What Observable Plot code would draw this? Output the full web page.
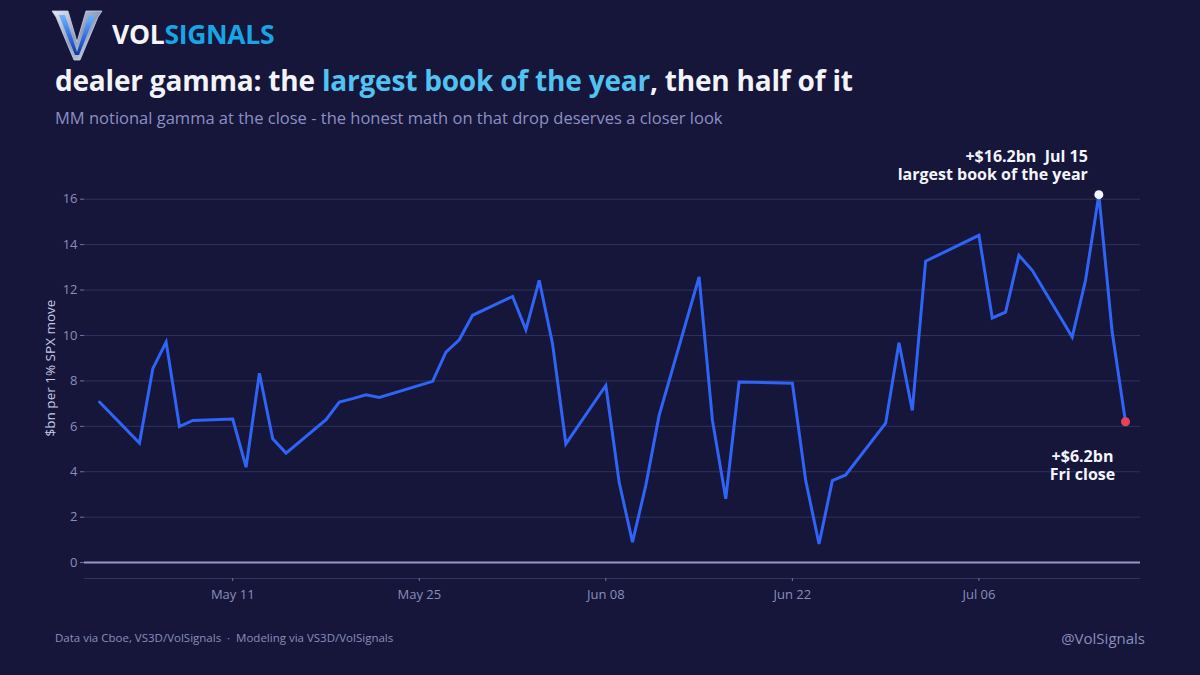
<!DOCTYPE html>
<html>
<head>
<meta charset="utf-8">
<script src="https://cdn.jsdelivr.net/npm/d3@7"></script>
<script src="https://cdn.jsdelivr.net/npm/@observablehq/plot@0.6"></script>
<style>
  html, body { margin: 0; padding: 0; background: #15163a; }
  #page { position: relative; width: 1200px; height: 675px; background: #15163a; overflow: hidden;
          font-family: "Open Sans", "Noto Sans", sans-serif; }
  .abs { position: absolute; white-space: nowrap; }
  #brand { left: 112px; top: 16px; font-size: 26.5px; line-height: 36px; font-weight: 700; letter-spacing: -0.3px; }
  #brand .vol { color: #f4f4fb; }
  #brand .sig { color: #19a4e4; }
  #title { left: 55px; top: 62px; font-size: 28px; line-height: 36px; font-weight: 700; color: #f3f3fa; letter-spacing: -0.2px; }
  #title .hl { color: #52c3f1; }
  #subtitle { left: 55px; top: 107px; font-size: 16.5px; line-height: 22px; color: #8c90c2; }
  #chart { left: 0; top: 140px; }
  #ylabel { left: 50px; top: 368px; font-size: 13.5px; line-height: 18px; color: #c6c9e6;
            transform: translate(-50%, -50%) rotate(-90deg); }
  #source { left: 55px; top: 630px; font-size: 11.5px; line-height: 16px; color: #8a8eba; }
  #handle { right: 55px; top: 628px; font-size: 15px; line-height: 20px; color: #8a8eba; }
</style>
</head>
<body>
<div id="page">
  <svg class="abs" style="left:51px;top:8px" width="52" height="54" viewBox="0 0 52 54">
    <defs>
      <linearGradient id="vSilver" x1="0" y1="0" x2="1" y2="1">
        <stop offset="0" stop-color="#e6ebf5"/>
        <stop offset="0.5" stop-color="#8f9bb8"/>
        <stop offset="1" stop-color="#d9e1f0"/>
      </linearGradient>
      <linearGradient id="vBlue" x1="0" y1="0" x2="0" y2="1">
        <stop offset="0" stop-color="#6fb4ff"/>
        <stop offset="0.6" stop-color="#2a66e0"/>
        <stop offset="1" stop-color="#123a9e"/>
      </linearGradient>
    </defs>
    <path d="M1 3 L17 3 L26 34 L35 3 L51 3 L47 9 L29 52 L23 52 L5 9 Z" fill="url(#vSilver)" stroke="#c8d2e6" stroke-width="0.8"/>
    <path d="M8 7 L14 7 L26 44 L38 7 L44 7 L28 47 L24 47 Z" fill="url(#vBlue)"/>
  </svg>
  <div id="brand" class="abs"><span class="vol">VOL</span><span class="sig">SIGNALS</span></div>
  <div id="title" class="abs">dealer gamma: the <span class="hl">largest book of the year</span>, then half of it</div>
  <div id="subtitle" class="abs">MM notional gamma at the close - the honest math on that drop deserves a closer look</div>
  <div id="chart" class="abs"></div>
  <div id="ylabel" class="abs">$bn per 1% SPX move</div>
  <div id="source" class="abs">Data via Cboe, VS3D/VolSignals &nbsp;·&nbsp; Modeling via VS3D/VolSignals</div>
  <div id="handle" class="abs">@VolSignals</div>
</div>
<script>
// Trading-day closes, dealer (market-maker) notional gamma, $bn per 1% SPX move
const dates = [
  "2026-05-01", "2026-05-04", "2026-05-05", "2026-05-06", "2026-05-07", "2026-05-08",
  "2026-05-11", "2026-05-12", "2026-05-13", "2026-05-14", "2026-05-15",
  "2026-05-18", "2026-05-19", "2026-05-20", "2026-05-21", "2026-05-22",
  "2026-05-26", "2026-05-27", "2026-05-28", "2026-05-29",
  "2026-06-01", "2026-06-02", "2026-06-03", "2026-06-04", "2026-06-05",
  "2026-06-08", "2026-06-09", "2026-06-10", "2026-06-11", "2026-06-12",
  "2026-06-15", "2026-06-16", "2026-06-17", "2026-06-18",
  "2026-06-22", "2026-06-23", "2026-06-24", "2026-06-25", "2026-06-26",
  "2026-06-29", "2026-06-30", "2026-07-01", "2026-07-02",
  "2026-07-06", "2026-07-07", "2026-07-08", "2026-07-09", "2026-07-10",
  "2026-07-13", "2026-07-14", "2026-07-15", "2026-07-16", "2026-07-17"
];
const gamma = [
  7.07, 5.26, 8.54, 9.71, 5.99, 6.26,
  6.32, 4.20, 8.34, 5.45, 4.82,
  6.29, 7.07, 7.22, 7.39, 7.27,
  7.98, 9.27, 9.81, 10.89,
  11.72, 10.25, 12.43, 9.64, 5.23,
  7.80, 3.54, 0.90, 3.40, 6.48,
  12.58, 6.26, 2.81, 7.95,
  7.90, 3.61, 0.82, 3.61, 3.86,
  6.14, 9.68, 6.70, 13.27,
  14.41, 10.77, 11.03, 13.53, 12.87,
  9.93, 12.43, 16.20, 10.15, 6.20
];
const xTicks = ["2026-05-11", "2026-05-25", "2026-06-08", "2026-06-22", "2026-07-06"];
const yTicks = [0, 2, 4, 6, 8, 10, 12, 14, 16];
const peakDate = "2026-07-15";
const lastDate = "2026-07-17";
const peakNote = "+$16.2bn  Jul 15\nlargest book of the year";
const lastNote = "+$6.2bn\nFri close";

const series = dates.map((d, i) => ({date: new Date(d), value: gamma[i]}));
const peak = series.find(d => +d.date === +new Date(peakDate));
const last = series.find(d => +d.date === +new Date(lastDate));
const yMin = -0.7;

const chart = Plot.plot({
  width: 1200,
  height: 480,
  marginLeft: 84,
  marginRight: 60,
  marginTop: 36,
  marginBottom: 42,
  style: {background: "transparent", color: "#8a8eba", fontFamily: "'Open Sans', 'Noto Sans', sans-serif", fontSize: "13px"},
  x: {type: "utc", domain: [series[0].date, series[series.length - 1].date], inset: 15},
  y: {domain: [yMin, 17]},
  marks: [
    Plot.gridY(yTicks.filter(t => t !== 0), {stroke: "#30325f", strokeOpacity: 1, strokeWidth: 1}),
    Plot.ruleY([yMin], {stroke: "#30325f", strokeWidth: 1}),
    Plot.ruleY([0], {stroke: "#9597c8", strokeWidth: 2}),
    Plot.axisY(yTicks, {tickSize: 4, tickPadding: 3, stroke: "#6f73a3", fill: "#8a8eba", fontSize: 13, label: null}),
    Plot.axisX(xTicks.map(d => new Date(d)), {tickSize: 3, tickPadding: 8, stroke: "#6f73a3", fill: "#8a8eba", fontSize: 13,
      tickFormat: d3.utcFormat("%b %d"), label: null}),
    Plot.line(series, {x: "date", y: "value", stroke: "#2f64f6", strokeWidth: 3, strokeLinejoin: "miter", strokeMiterlimit: 4}),
    Plot.dot([peak], {x: "date", y: "value", r: 4.5, fill: "#f4f4fb"}),
    Plot.dot([last], {x: "date", y: "value", r: 4.5, fill: "#e8425a"}),
    Plot.text([peak], {x: "date", y: "value", text: () => peakNote, textAnchor: "end", lineAnchor: "bottom",
      dx: -11, dy: -15, fill: "#f4f4fb", fontWeight: 700, fontSize: 16, lineHeight: 1.13}),
    Plot.text([last], {x: "date", y: "value", text: () => lastNote, textAnchor: "middle", lineAnchor: "top",
      dx: -43, dy: 28, fill: "#f4f4fb", fontWeight: 700, fontSize: 16, lineHeight: 1.1})
  ]
});
document.getElementById("chart").appendChild(chart);
</script>
</body>
</html>
